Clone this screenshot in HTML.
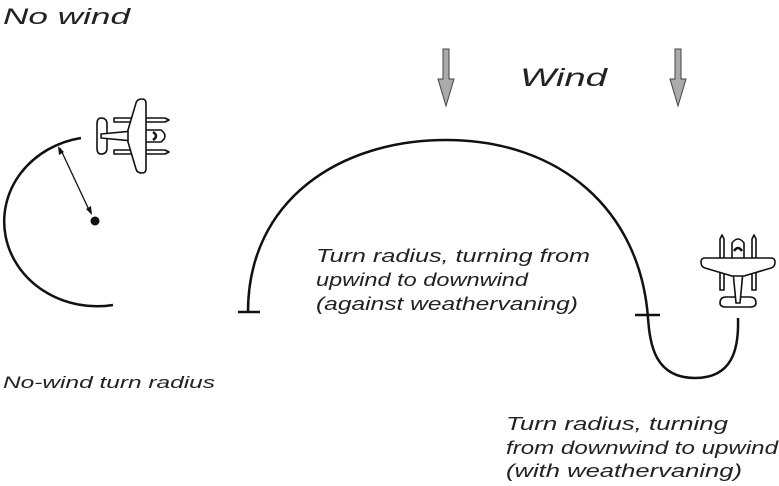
<!DOCTYPE html>
<html><head><style>
html,body{margin:0;padding:0;background:#fff;width:779px;height:486px;overflow:hidden}
svg{display:block}
text{font-family:"Liberation Sans",sans-serif;font-style:italic;fill:#222}
</style></head><body>
<svg width="779" height="486" viewBox="0 0 779 486">
<defs>
<g id="plane" fill="#fff" stroke="#111" stroke-width="1.6" stroke-linejoin="round">
  <path d="M-18,-31 l2,-4 l2,4 v51 h-4z"/>
  <path d="M14,-31 l2,-4 l2,4 v51 h-4z"/>
  <path d="M-18,33 q0,-6 6,-6 h24 q6,0 6,6 q0,4 -6,4 h-24 q-6,0 -6,-4z"/>
  <path d="M-6,-27 q6,-8 12,0 v18 l-4,42 h-4 l-4,-42z"/>
  <path d="M-37,-8 q0,-4 4,-4 h66 q4,0 4,4 q0,5 -4,6 l-27,8 h-12 l-27,-8 q-4,-1 -4,-6z"/>
  <path d="M-4,-19 q4,-6 8,0" fill="none" stroke-width="2.5"/>
</g>
</defs>

<text x="3" y="24" font-size="22" textLength="127" lengthAdjust="spacingAndGlyphs">No wind</text>
<text x="520" y="86" font-size="25" textLength="87" lengthAdjust="spacingAndGlyphs">Wind</text>

<g fill="#aaa" stroke="#444" stroke-width="1">
<path d="M443,49 h6 v30 h5 l-8,27 l-8,-27 h5z"/>
<path d="M675,49 h6 v30 h5 l-8,27 l-8,-27 h5z"/>
</g>

<path d="M81,138 A92,84 0 0 0 113,305" fill="none" stroke="#111" stroke-width="2.5"/>
<circle cx="95" cy="221" r="4.5" fill="#111"/>
<line x1="60" y1="148" x2="90" y2="212" stroke="#111" stroke-width="1.3"/>
<path d="M58,146 l1,9 l5,-3z M92,215 l-1,-9 l-5,3z" fill="#111"/>
<use href="#plane" transform="translate(134,136) rotate(90)"/>

<path d="M248,312 C248,200 340,140 446,140 C560,140 640,210 648,318 C650,345 655,378 695,378 C732,378 739,350 738,318" fill="none" stroke="#111" stroke-width="2.5"/>
<line x1="238" y1="312" x2="260" y2="312" stroke="#111" stroke-width="2.5"/>
<line x1="635" y1="315" x2="660" y2="315" stroke="#111" stroke-width="2.5"/>
<use href="#plane" transform="translate(738,270)"/>

<g font-size="18">
<text x="316" y="262" textLength="274" lengthAdjust="spacingAndGlyphs">Turn radius, turning from</text>
<text x="316" y="286" textLength="212" lengthAdjust="spacingAndGlyphs">upwind to downwind</text>
<text x="316" y="310" textLength="262" lengthAdjust="spacingAndGlyphs">(against weathervaning)</text>
<text x="3" y="388" font-size="17" textLength="212" lengthAdjust="spacingAndGlyphs">No-wind turn radius</text>
<text x="506" y="430" textLength="222" lengthAdjust="spacingAndGlyphs">Turn radius, turning</text>
<text x="506" y="454" textLength="272" lengthAdjust="spacingAndGlyphs">from downwind to upwind</text>
<text x="506" y="477" textLength="236" lengthAdjust="spacingAndGlyphs">(with weathervaning)</text>
</g>
</svg>
</body></html>
